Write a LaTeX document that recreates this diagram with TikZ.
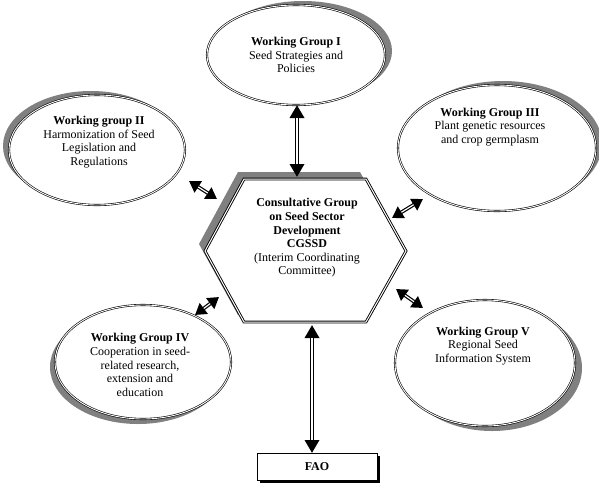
\documentclass[tikz,border=0pt]{standalone}
\usepackage{fontspec}
\setmainfont{Liberation Serif}
\usetikzlibrary{arrows.meta,shapes.geometric}
\definecolor{shadowgray}{RGB}{128,128,128}
\tikzset{
  wgell/.style={ellipse, draw=black, line width=0.6pt, double=white, double distance=0.9pt, fill=white, inner sep=0pt},
  shadefill/.style={fill=shadowgray},
  wgtext/.style={align=center, font=\fontsize{12}{13.6}\selectfont, inner sep=0pt},
  biarrow/.style={line width=4pt, {Triangle[length=13pt,width=14pt]}-{Triangle[length=13pt,width=14pt]}},
  biinner/.style={white, line width=1.4pt, shorten >=13pt, shorten <=13pt},
  smallarrow/.style={line width=3.6pt, {Triangle[length=11pt,width=13pt]}-{Triangle[length=11pt,width=13pt]}},
  smallinner/.style={white, line width=1.2pt, shorten >=11pt, shorten <=11pt},
}
\begin{document}
\begin{tikzpicture}[x=1pt,y=-1pt]
\useasboundingbox (0,0) rectangle (599,485);
% shadows
\fill[shadefill] (303,51) ellipse [x radius=89pt, y radius=50pt];
\fill[shadefill] (91,146) ellipse [x radius=88pt, y radius=55pt];
\fill[shadefill] (503,144) ellipse [x radius=99pt, y radius=63pt];
\fill[shadefill] (138,367) ellipse [x radius=88pt, y radius=57pt];
\fill[shadefill] (492,368) ellipse [x radius=90pt, y radius=63pt];
\fill[shadefill] (238,172) -- (360,172) -- (400,244) -- (360,315) -- (238,315) -- (199,244) -- cycle;
% ellipses
\node[wgell, minimum width=178pt, minimum height=100pt] (e1) at (296,55) {};
\node[wgell, minimum width=176pt, minimum height=110pt] (e2) at (97,150) {};
\node[wgell, minimum width=198pt, minimum height=126pt] (e3) at (497,148) {};
\node[wgell, minimum width=176pt, minimum height=114pt] (e4) at (143,362) {};
\node[wgell, minimum width=180pt, minimum height=126pt] (e5) at (485,363) {};
% hexagon
\draw[line width=0.9pt, double=white, double distance=1pt, fill=white]
  (244,179) -- (366,179) -- (406,251) -- (366,322) -- (244,322) -- (205,251) -- cycle;
% texts
\node[wgtext] (t1) at (296,55) {\textbf{Working Group I}\\Seed Strategies and\\Policies};
\node[wgtext] (t2) at (99,142) {\textbf{Working group II}\\Harmonization of Seed\\Legislation and\\Regulations};
\node[wgtext] (t3) at (490,127) {\textbf{Working Group III}\\Plant genetic resources\\and crop germplasm};
\node[wgtext] (t4) at (140,365) {\textbf{Working Group IV}\\Cooperation in seed-\\related research,\\extension and\\education};
\node[wgtext] (t5) at (483,346) {\textbf{Working Group V}\\Regional Seed\\Information System};
\node[wgtext] (hex) at (307,238) {\textbf{Consultative Group}\\\textbf{on Seed Sector}\\\textbf{Development}\\\textbf{CGSSD}\\(Interim Coordinating\\Committee)};
% FAO
\fill[black] (260,456) rectangle (380,483);
\node[draw, line width=1pt, fill=white, minimum width=120pt, minimum height=27pt, inner sep=0pt, font=\fontsize{12}{14}\selectfont] (fao) at (317,466.5) {\textbf{FAO}};
% arrow coordinates
\coordinate (hexN) at (297,177);
\coordinate (e1S) at (297,105);
\coordinate (hexS) at (312,325);
\coordinate (faoN) at (312,453);
\coordinate (a2s) at (189,181); \coordinate (a2e) at (217,199);
\coordinate (a3s) at (392,218); \coordinate (a3e) at (423,199);
\coordinate (a4s) at (195,315); \coordinate (a4e) at (219,297);
\coordinate (a5s) at (396,289); \coordinate (a5e) at (423,308);
% arrows
\draw[biarrow] (e1S) -- (hexN);
\draw[biinner] (e1S) -- (hexN);
\draw[biarrow] (hexS) -- (faoN);
\draw[biinner] (hexS) -- (faoN);
\foreach \n in {2,3,4,5}{
  \draw[smallarrow] (a\n s) -- (a\n e);
  \draw[smallinner] (a\n s) -- (a\n e);
}
\end{tikzpicture}
\end{document}
